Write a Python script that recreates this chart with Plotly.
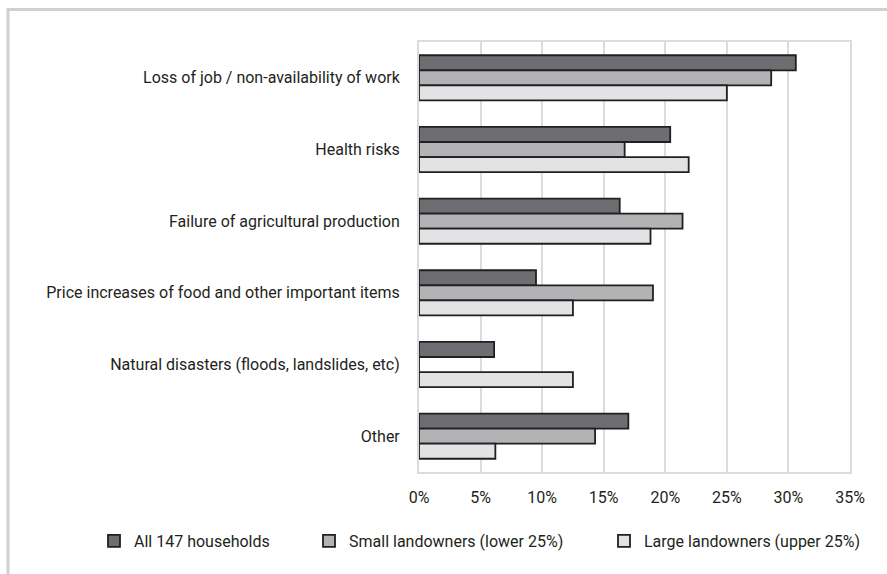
import plotly.graph_objects as go

categories = [
    "Loss of job / non-availability of work",
    "Health risks",
    "Failure of agricultural production",
    "Price increases of food and other important items",
    "Natural disasters (floods, landslides, etc)",
    "Other",
]
series_names = [
    "All 147 households",
    "Small landowners (lower 25%)",
    "Large landowners (upper 25%)",
]
all_households = [30.6, 20.4, 16.3, 9.5, 6.1, 17.0]
small_landowners = [28.6, 16.7, 21.4, 19.0, 0.0, 14.3]
large_landowners = [25.0, 21.9, 18.8, 12.5, 12.5, 6.2]
tick_values = [0, 5, 10, 15, 20, 25, 30, 35]
tick_labels = ["0%", "5%", "10%", "15%", "20%", "25%", "30%", "35%"]

colors = ["#6d6e71", "#b2b3b5", "#e2e3e4"]
outline = "#231f20"
font_family = "Roboto, Liberation Sans, sans-serif"

W, H = 887, 574
ml, mr, mt, mb = 419, 37, 42, 102
pw, ph = W - ml - mr, H - mt - mb

def px_x(p):
    return (p - ml) / pw

def px_y(p):
    return (H - mb - p) / ph

legend_names = ["legend", "legend2", "legend3"]
legend_x = [94, 309, 604]

fig = go.Figure()
for name, vals, col, lg in zip(series_names, [all_households, small_landowners, large_landowners], colors, legend_names):
    fig.add_trace(go.Bar(
        y=categories, x=vals, name=name, orientation="h",
        marker=dict(color=col, line=dict(color=outline, width=1.8)),
        legend=lg,
    ))

legend_common = dict(orientation="h", xanchor="left", yanchor="middle",
                     font=dict(size=16), bgcolor="rgba(0,0,0,0)")

fig.update_layout(
    width=W, height=H,
    margin=dict(l=ml, r=mr, t=mt, b=mb, autoexpand=False),
    barmode="group", bargap=0.37, bargroupgap=0,
    plot_bgcolor="white", paper_bgcolor="white",
    font=dict(family=font_family, size=16, color=outline),
    showlegend=True,
    legend=dict(x=px_x(legend_x[0]), y=px_y(541), **legend_common),
    legend2=dict(x=px_x(legend_x[1]), y=px_y(541), **legend_common),
    legend3=dict(x=px_x(legend_x[2]), y=px_y(541), **legend_common),
    xaxis=dict(
        range=[0, 35], tickvals=tick_values, ticktext=tick_labels,
        showgrid=True, gridcolor="#dcdcdc", gridwidth=2,
        showline=True, linecolor="#dcdcdc", linewidth=2, mirror=True,
        ticks="outside", ticklen=10, tickcolor="rgba(0,0,0,0)",
        zeroline=False, fixedrange=True,
    ),
    yaxis=dict(
        autorange="reversed", automargin=False,
        showline=True, linecolor="#dcdcdc", linewidth=2, mirror=True,
        ticks="outside", ticklen=14, tickcolor="rgba(0,0,0,0)",
        showgrid=False,
    ),
    shapes=[
        dict(type="line", xref="paper", yref="paper",
             x0=px_x(8), x1=px_x(W + 5), y0=px_y(9.5), y1=px_y(9.5),
             line=dict(color="#d0d0d0", width=3)),
        dict(type="line", xref="paper", yref="paper",
             x0=px_x(8), x1=px_x(8), y0=px_y(8), y1=px_y(H + 5),
             line=dict(color="#d0d0d0", width=3)),
    ],
)

fig.write_html("out.html", config={"displayModeBar": False},
               post_script="document.body.style.margin='0';document.body.style.overflow='hidden';")
